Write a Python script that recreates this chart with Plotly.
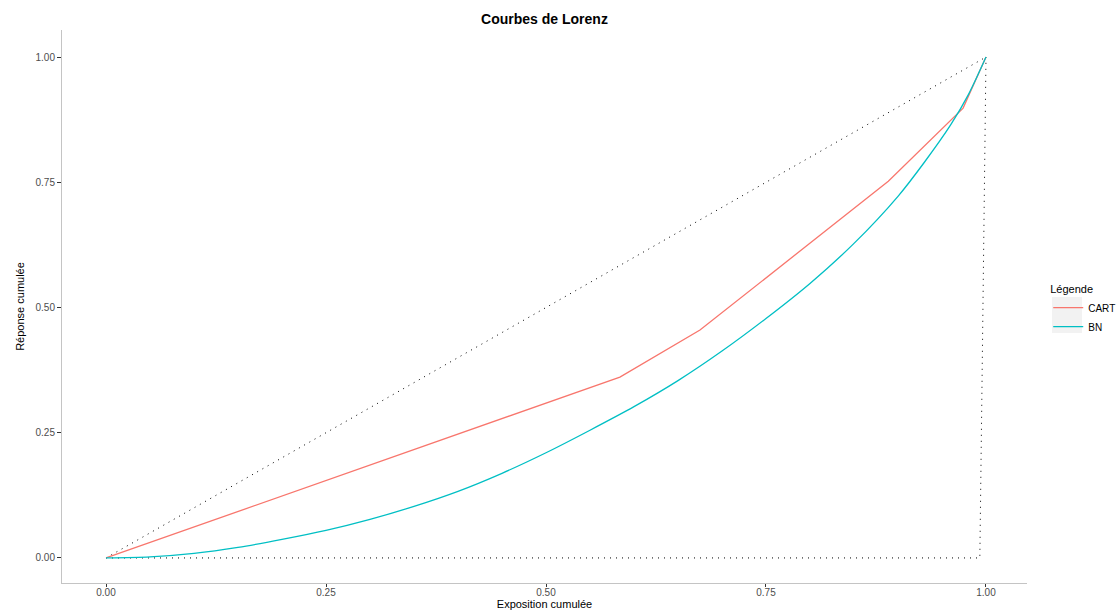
import plotly.graph_objects as go

# CART Lorenz curve (piecewise linear)
cart_x = [0.0, 0.584, 0.675, 0.889, 0.974, 1.0]
cart_y = [0.0, 0.361, 0.455, 0.752, 0.898, 1.0]

# BN Lorenz curve
bn_x = [0.0, 0.05, 0.10, 0.15, 0.20, 0.25, 0.30, 0.35, 0.40, 0.45, 0.50, 0.55,
        0.60, 0.65, 0.70, 0.75, 0.80, 0.85, 0.90, 0.93, 0.96, 0.98, 1.0]
bn_y = [0.0, 0.002, 0.009, 0.021, 0.037, 0.055, 0.077, 0.103, 0.133, 0.169, 0.210, 0.255,
        0.302, 0.354, 0.413, 0.478, 0.548, 0.628, 0.722, 0.790, 0.865, 0.925, 1.0]

# reference lines
diag_x = [0.0, 1.0]
diag_y = [0.0, 1.0]
oracle_x = [0.0, 0.993, 0.9955, 0.997, 0.9985, 1.0]
oracle_y = [0.0, 0.0, 0.35, 0.55, 0.75, 1.0]

dot_line = dict(color="black", width=1, dash="1px,5px")

fig = go.Figure()
fig.add_trace(go.Scatter(x=diag_x, y=diag_y, mode="lines", showlegend=False,
                         line=dot_line, hoverinfo="skip"))
fig.add_trace(go.Scatter(x=oracle_x, y=oracle_y, mode="lines", showlegend=False,
                         line=dot_line, hoverinfo="skip"))
fig.add_trace(go.Scatter(x=cart_x, y=cart_y, mode="lines", name="CART",
                         line=dict(color="#F8766D", width=1.3)))
fig.add_trace(go.Scatter(x=bn_x, y=bn_y, mode="lines", name="BN",
                         line=dict(color="#00BFC4", width=1.3, shape="spline", smoothing=0.8)))

tick_vals = [0.0, 0.25, 0.5, 0.75, 1.0]
tick_text = ["0.00", "0.25", "0.50", "0.75", "1.00"]

axis_common = dict(
    showgrid=False, zeroline=False, showline=True, linecolor="#C4C4C4", linewidth=1,
    ticks="outside", tickcolor="#333333", tickwidth=1, automargin=True,
    tickfont=dict(family="Liberation Sans, Arial", size=10, color="#4D4D4D"),
    tickvals=tick_vals, ticktext=tick_text,
)

L, R, T, B = 62, 93, 30, 27
W, H = 1120, 610
PW, PH = W - L - R, H - T - B


def px_x(p):
    return (p - L) / PW


def px_y(p):
    return (H - B - p) / PH


fig.update_layout(
    width=W, height=H,
    margin=dict(l=L, r=R, t=T, b=B, autoexpand=False),
    paper_bgcolor="white", plot_bgcolor="white",
    font=dict(family="Liberation Sans, Arial", color="black"),
    title=dict(text="<b>Courbes de Lorenz</b>", x=(L + PW / 2) / W, xanchor="center",
               y=1 - 19 / H, yanchor="middle",
               font=dict(family="Liberation Sans, Arial", size=14, color="black")),
    xaxis=dict(range=[-0.05, 1.0466], ticklen=3, ticklabelstandoff=-3,
               title=dict(text="Exposition cumulée", standoff=1,
                          font=dict(size=11, color="black")), **axis_common),
    yaxis=dict(range=[-0.05, 1.054], ticklen=4,
               title=dict(text="Réponse cumulée", standoff=8,
                          font=dict(size=11, color="black")), **axis_common),
    legend=dict(title=dict(text="Légende", font=dict(size=11, color="black")),
                x=1.022, xanchor="left", y=0.55, yanchor="top",
                font=dict(size=10, color="black"), bgcolor="rgba(0,0,0,0)",
                tracegroupgap=0, itemwidth=30),
    shapes=[dict(type="rect", xref="paper", yref="paper",
                 x0=px_x(1052), x1=px_x(1082), y0=px_y(297), y1=px_y(333),
                 fillcolor="#F2F2F2", line=dict(width=0), layer="below")],
)

fig.write_html("out.html", config={"displayModeBar": False},
               post_script="document.body.style.margin='0px';document.body.style.overflow='hidden';")
